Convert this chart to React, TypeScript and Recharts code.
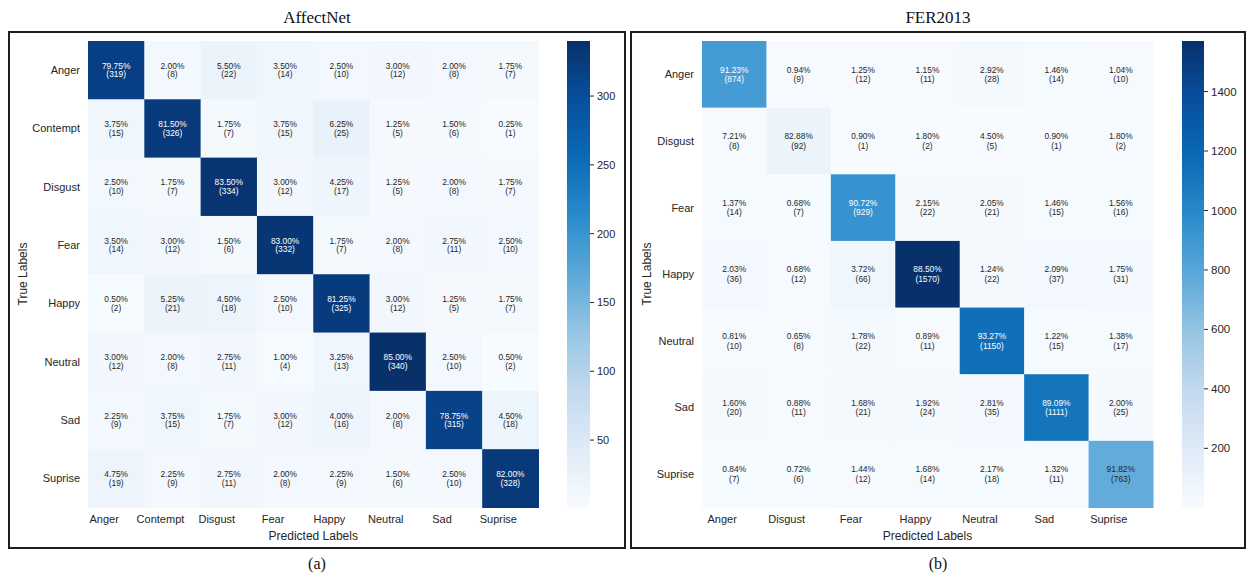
import React from 'react';
import { ScatterChart, Scatter, XAxis, YAxis, BarChart, Bar } from 'recharts';

// class labels
const affectClasses = ['Anger', 'Contempt', 'Disgust', 'Fear', 'Happy', 'Neutral', 'Sad', 'Suprise'];
const ferClasses = ['Anger', 'Disgust', 'Fear', 'Happy', 'Neutral', 'Sad', 'Suprise'];

// AffectNet counts (rows = true, cols = predicted)
const affectCounts = [
  [319, 8, 22, 14, 10, 12, 8, 7],
  [15, 326, 7, 15, 25, 5, 6, 1],
  [10, 7, 334, 12, 17, 5, 8, 7],
  [14, 12, 6, 332, 7, 8, 11, 10],
  [2, 21, 18, 10, 325, 12, 5, 7],
  [12, 8, 11, 4, 13, 340, 10, 2],
  [9, 15, 7, 12, 16, 8, 315, 18],
  [19, 9, 11, 8, 9, 6, 10, 328],
];
const affectPct = [
  [79.75, 2.0, 5.5, 3.5, 2.5, 3.0, 2.0, 1.75],
  [3.75, 81.5, 1.75, 3.75, 6.25, 1.25, 1.5, 0.25],
  [2.5, 1.75, 83.5, 3.0, 4.25, 1.25, 2.0, 1.75],
  [3.5, 3.0, 1.5, 83.0, 1.75, 2.0, 2.75, 2.5],
  [0.5, 5.25, 4.5, 2.5, 81.25, 3.0, 1.25, 1.75],
  [3.0, 2.0, 2.75, 1.0, 3.25, 85.0, 2.5, 0.5],
  [2.25, 3.75, 1.75, 3.0, 4.0, 2.0, 78.75, 4.5],
  [4.75, 2.25, 2.75, 2.0, 2.25, 1.5, 2.5, 82.0],
];
const affectTicks = [50, 100, 150, 200, 250, 300];

// FER2013
const ferCounts = [
  [874, 9, 12, 11, 28, 14, 10],
  [8, 92, 1, 2, 5, 1, 2],
  [14, 7, 929, 22, 21, 15, 16],
  [36, 12, 66, 1570, 22, 37, 31],
  [10, 8, 22, 11, 1150, 15, 17],
  [20, 11, 21, 24, 35, 1111, 25],
  [7, 6, 12, 14, 18, 11, 763],
];
const ferPct = [
  [91.23, 0.94, 1.25, 1.15, 2.92, 1.46, 1.04],
  [7.21, 82.88, 0.9, 1.8, 4.5, 0.9, 1.8],
  [1.37, 0.68, 90.72, 2.15, 2.05, 1.46, 1.56],
  [2.03, 0.68, 3.72, 88.5, 1.24, 2.09, 1.75],
  [0.81, 0.65, 1.78, 0.89, 93.27, 1.22, 1.38],
  [1.6, 0.88, 1.68, 1.92, 2.81, 89.09, 2.0],
  [0.84, 0.72, 1.44, 1.68, 2.17, 1.32, 91.82],
];
const ferTicks = [200, 400, 600, 800, 1000, 1200, 1400];

// "Blues", a little more saturated in the middle like the printed figure
const BLUES = ['#f7fbff', '#dfebf7', '#c3d9ef', '#96c6e2', '#5ba8d9', '#2a8bcb', '#0a6ab5', '#084f9e', '#08306b'];
const SANS = '"Liberation Sans", Arial, sans-serif';
const SERIF = '"Liberation Serif", "Times New Roman", serif';
const INK = '#262626';

const hexToRgb = (h: string) => [1, 3, 5].map((i) => parseInt(h.slice(i, i + 2), 16));

const blues = (t: number) => {
  const c = Math.max(0, Math.min(1, t)) * (BLUES.length - 1);
  const i = Math.min(Math.floor(c), BLUES.length - 2);
  const f = c - i;
  const a = hexToRgb(BLUES[i]);
  const b = hexToRgb(BLUES[i + 1]);
  return a.map((v, k) => Math.round(v + (b[k] - v) * f));
};

// annotation colour from relative luminance
const luminance = (rgb: number[]) => {
  const lin = rgb.map((v) => {
    const s = v / 255;
    return s <= 0.03928 ? s / 12.92 : Math.pow((s + 0.055) / 1.055, 2.4);
  });
  return 0.2126 * lin[0] + 0.7152 * lin[1] + 0.0722 * lin[2];
};

interface Box { x: number; y: number; w: number; h: number }

interface HeatmapProps {
  classes: string[];
  counts: number[][];
  pct: number[][];
  ticks: number[];
  plot: Box;
  bar: Box;
  gradId: string;
  lineGap: number;
  cbFont: number;
  ylabelOffset: number;
}

const Heatmap = ({ classes, counts, pct, ticks, plot, bar, gradId, lineGap, cbFont, ylabelOffset }: HeatmapProps) => {
  const n = classes.length;
  const flat = counts.flat();
  const vmin = Math.min(...flat);
  const vmax = Math.max(...flat);
  const cw = plot.w / n;
  const ch = plot.h / n;

  const data = counts.flatMap((row, r) =>
    row.map((count, c) => ({ x: c + 0.5, y: r + 0.5, count, pct: pct[r][c] }))
  );
  const centers = classes.map((_, i) => i + 0.5);

  const renderCell = (p: any) => {
    const { cx, cy, payload } = p;
    const rgb = blues((payload.count - vmin) / (vmax - vmin));
    const txt = luminance(rgb) > 0.33 ? INK : '#ffffff';
    return (
      <g>
        <rect
          x={cx - cw / 2}
          y={cy - ch / 2}
          width={cw + 0.5}
          height={ch + 0.5}
          fill={`rgb(${rgb.join(',')})`}
        />
        <text x={cx} y={cy - lineGap} textAnchor="middle" dominantBaseline="central" fontSize={8.4} fontFamily={SANS} fill={txt}>
          {payload.pct.toFixed(2)}%
        </text>
        <text x={cx} y={cy + lineGap} textAnchor="middle" dominantBaseline="central" fontSize={8.4} fontFamily={SANS} fill={txt}>
          ({payload.count})
        </text>
      </g>
    );
  };

  const yW = 80;
  const cbW = 50;

  return (
    <>
      <div style={{ position: 'absolute', left: plot.x - yW, top: plot.y - 10 }}>
        <ScatterChart
          width={plot.w + yW + 5}
          height={plot.h + 50}
          margin={{ top: 10, right: 5, left: 0, bottom: 0 }}
        >
          <XAxis
            type="number"
            dataKey="x"
            domain={[0, n]}
            ticks={centers}
            interval={0}
            tickFormatter={(v: number) => classes[Math.floor(v)]}
            axisLine={false}
            tickLine={false}
            height={40}
            tick={{ fontSize: 11, fill: INK, fontFamily: SANS, dx: -12 }}
          />
          <YAxis
            type="number"
            dataKey="y"
            domain={[0, n]}
            reversed
            ticks={centers}
            interval={0}
            tickFormatter={(v: number) => classes[Math.floor(v)]}
            axisLine={false}
            tickLine={false}
            width={yW}
            tick={{ fontSize: 11, fill: INK, fontFamily: SANS }}
          />
          <Scatter data={data} shape={renderCell} isAnimationActive={false} />
        </ScatterChart>
      </div>

      <div style={{ position: 'absolute', left: bar.x, top: bar.y - 10 }}>
        <BarChart
          width={bar.w + cbW}
          height={bar.h + 20}
          data={[{ name: 'cb', lo: vmin, hi: vmax }]}
          margin={{ top: 10, right: 0, left: 0, bottom: 10 }}
          barCategoryGap={0}
        >
          <defs>
            <linearGradient id={gradId} x1="0" y1="1" x2="0" y2="0">
              {BLUES.map((c, i) => (
                <stop key={c} offset={`${(i / (BLUES.length - 1)) * 100}%`} stopColor={c} />
              ))}
            </linearGradient>
          </defs>
          <XAxis dataKey="name" hide />
          <YAxis
            orientation="right"
            type="number"
            domain={[vmin, vmax]}
            ticks={ticks}
            interval={0}
            width={cbW}
            axisLine={false}
            tickSize={4}
            tickMargin={3}
            tickLine={{ stroke: INK }}
            tick={{ fontSize: cbFont, fill: INK, fontFamily: SANS }}
          />
          <Bar dataKey={(d: any) => [d.lo, d.hi]} fill={`url(#${gradId})`} isAnimationActive={false} />
        </BarChart>
      </div>

      <div
        style={{
          position: 'absolute',
          left: plot.x - ylabelOffset - 60,
          top: plot.y + plot.h / 2 - 8,
          width: 120,
          textAlign: 'center',
          fontFamily: SANS,
          fontSize: 12,
          color: INK,
          transform: 'rotate(-90deg)',
          lineHeight: '16px',
        }}
      >
        True Labels
      </div>
      <div
        style={{
          position: 'absolute',
          left: plot.x,
          top: plot.y + plot.h + 20,
          width: plot.w,
          textAlign: 'center',
          fontFamily: SANS,
          fontSize: 12,
          color: INK,
          lineHeight: '16px',
        }}
      >
        Predicted Labels
      </div>
    </>
  );
};

const Panel = ({ title, caption, frame }: { title: string; caption: string; frame: Box }) => (
  <>
    <div
      style={{
        position: 'absolute',
        left: frame.x,
        top: 8,
        width: frame.w,
        textAlign: 'center',
        fontFamily: SERIF,
        fontSize: 17,
        lineHeight: '20px',
        color: '#111',
      }}
    >
      {title}
    </div>
    <div
      style={{
        position: 'absolute',
        left: frame.x,
        top: frame.y,
        width: frame.w,
        height: frame.h,
        border: '2px solid #1e1e1e',
        boxSizing: 'border-box',
      }}
    />
    <div
      style={{
        position: 'absolute',
        left: frame.x,
        top: frame.y + frame.h + 5,
        width: frame.w,
        textAlign: 'center',
        fontFamily: SERIF,
        fontSize: 16,
        lineHeight: '20px',
        color: '#111',
      }}
    >
      {caption}
    </div>
  </>
);

const App = () => (
  <div style={{ position: 'absolute', left: 0, top: 0, width: 1248, height: 577, background: '#fff', overflow: 'hidden' }}>
    <Panel title="AffectNet" caption="(a)" frame={{ x: 8, y: 31, w: 618, h: 518 }} />
    <Panel title="FER2013" caption="(b)" frame={{ x: 630, y: 31, w: 616, h: 518 }} />
    <Heatmap
      classes={affectClasses}
      counts={affectCounts}
      pct={affectPct}
      ticks={affectTicks}
      plot={{ x: 88, y: 41, w: 450.5, h: 466.5 }}
      bar={{ x: 567, y: 41, w: 23, h: 466.5 }}
      gradId="affectGrad"
      lineGap={4.3}
      cbFont={11}
      ylabelOffset={65}
    />
    <Heatmap
      classes={ferClasses}
      counts={ferCounts}
      pct={ferPct}
      ticks={ferTicks}
      plot={{ x: 702, y: 41, w: 451, h: 466.5 }}
      bar={{ x: 1182, y: 41, w: 22, h: 466.5 }}
      gradId="ferGrad"
      lineGap={4.8}
      cbFont={11.5}
      ylabelOffset={55}
    />
  </div>
);

export default App;
